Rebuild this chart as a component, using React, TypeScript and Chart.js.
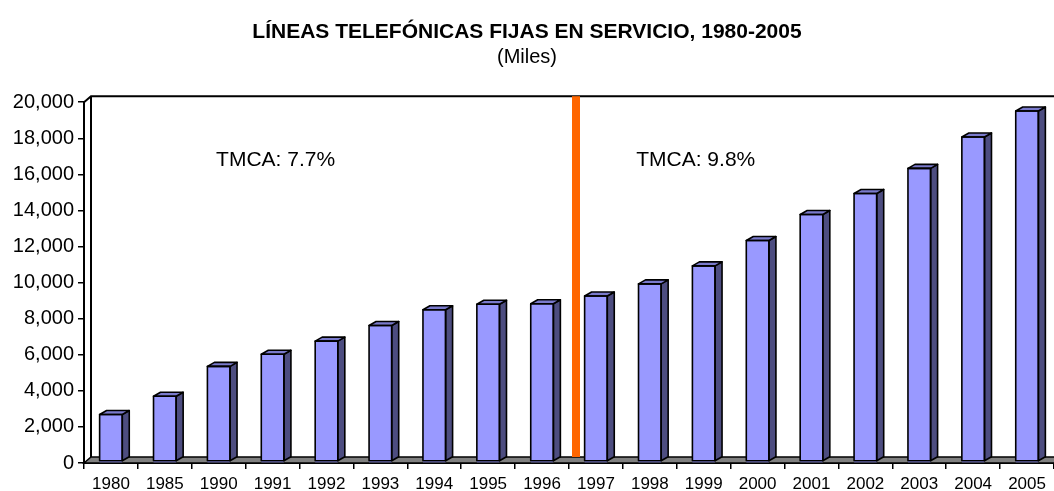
import React, { useEffect, useRef } from "react";
import { Chart, registerables } from "chart.js";

Chart.register(...registerables);

const categories = ["1980", "1985", "1990", "1991", "1992", "1993", "1994", "1995", "1996", "1997", "1998", "1999", "2000", "2001", "2002", "2003", "2004", "2005"];
const lineas = [2687, 3700, 5355, 6025, 6754, 7621, 8493, 8801, 8826, 9254, 9927, 10927, 12332, 13774, 14942, 16330, 18073, 19512];
const yMin = 0;
const yMax = 20000;
const yStep = 2000;
const titleText = "LÍNEAS TELEFÓNICAS FIJAS EN SERVICIO, 1980-2005";
const subtitleText = "(Miles)";
const notes = ["TMCA: 7.7%", "TMCA: 9.8%"];
const noteCategory = [3, 11];
const noteValue = [16800, 16800];
const splitAfterIndex = 8;

const FONT = "'Liberation Sans', Arial, Helvetica, sans-serif";
const DX = 7;
const DY = -6;
const BAR_DX = 7;
const BAR_DY = -4;

const threeD = {
  id: "threeD",
  beforeDatasetsDraw(chart: any) {
    const { ctx, chartArea } = chart;
    const { left, right, top, bottom } = chartArea;
    const x = chart.scales.x;
    ctx.save();
    // floor
    ctx.beginPath();
    ctx.moveTo(left, bottom);
    ctx.lineTo(left + DX, bottom + DY);
    ctx.lineTo(right + DX, bottom + DY);
    ctx.lineTo(right, bottom);
    ctx.closePath();
    ctx.fillStyle = "#808080";
    ctx.fill();
    ctx.strokeStyle = "#000";
    ctx.lineWidth = 1.5;
    ctx.stroke();
    // back wall
    ctx.lineWidth = 2;
    ctx.beginPath();
    ctx.moveTo(left, top);
    ctx.lineTo(left + DX, top + DY);
    ctx.lineTo(right + DX, top + DY);
    ctx.stroke();
    ctx.beginPath();
    ctx.moveTo(left + DX, top + DY);
    ctx.lineTo(left + DX, bottom + DY);
    ctx.stroke();
    // orange separator on back wall
    const sx = (x.getPixelForValue(splitAfterIndex) + x.getPixelForValue(splitAfterIndex + 1)) / 2 + DX;
    ctx.fillStyle = "#FF6600";
    ctx.fillRect(sx - 4, top + DY, 8, bottom - top);
    ctx.restore();
  },
  afterDatasetsDraw(chart: any) {
    const { ctx } = chart;
    const meta = chart.getDatasetMeta(0);
    ctx.save();
    ctx.strokeStyle = "#000";
    ctx.lineWidth = 1.6;
    ctx.lineJoin = "round";
    meta.data.forEach((bar: any) => {
      const { x, y, base, width } = bar.getProps(["x", "y", "base", "width"], true);
      const l = x - width / 2;
      const r = x + width / 2;
      const b = base - 1.5;
      // side
      ctx.beginPath();
      ctx.moveTo(r, y);
      ctx.lineTo(r + BAR_DX, y + BAR_DY);
      ctx.lineTo(r + BAR_DX, b + BAR_DY);
      ctx.lineTo(r, b);
      ctx.closePath();
      ctx.fillStyle = "#4D4D80";
      ctx.fill();
      ctx.stroke();
      // top
      ctx.beginPath();
      ctx.moveTo(l, y);
      ctx.lineTo(l + BAR_DX, y + BAR_DY);
      ctx.lineTo(r + BAR_DX, y + BAR_DY);
      ctx.lineTo(r, y);
      ctx.closePath();
      ctx.fillStyle = "#7A7ACC";
      ctx.fill();
      ctx.stroke();
      // front outline
      ctx.strokeRect(l, y, width, b - y);
    });
    // notes
    ctx.fillStyle = "#000";
    ctx.font = `21px ${FONT}`;
    ctx.textAlign = "center";
    ctx.textBaseline = "middle";
    notes.forEach((t, i) => {
      const px = chart.scales.x.getPixelForValue(noteCategory[i]);
      const py = chart.scales.y.getPixelForValue(noteValue[i]);
      ctx.fillText(t, px + (i === 0 ? 3 : -8), py);
    });
    ctx.restore();
  },
};

export default function App() {
  const ref = useRef<HTMLCanvasElement>(null);
  useEffect(() => {
    if (!ref.current) return;
    const chart = new Chart(ref.current, {
      type: "bar",
      data: {
        labels: categories,
        datasets: [
          {
            data: lineas,
            backgroundColor: "#9999FF",
            borderWidth: 0,
            barPercentage: 0.42,
            categoryPercentage: 1,
          },
        ],
      },
      options: {
        responsive: false,
        animation: false,
        layout: { padding: { left: 0, right: 0, top: 0, bottom: 0 } },
        plugins: {
          legend: { display: false },
          tooltip: { enabled: false },
          title: {
            display: true,
            text: titleText,
            color: "#000",
            font: { family: FONT, size: 21, weight: "bold", lineHeight: 1.2 },
            padding: { top: 20, bottom: 0 },
          },
          subtitle: {
            display: true,
            text: subtitleText,
            color: "#000",
            font: { family: FONT, size: 20, weight: "normal", lineHeight: 1.2 },
            padding: { top: 0, bottom: 33 },
          },
        },
        scales: {
          x: {
            offset: true,
            grid: {
              offset: true,
              drawOnChartArea: false,
              drawTicks: true,
              tickLength: 6,
              color: "#000",
              lineWidth: 1.5,
            },
            border: { color: "#000", width: 2 },
            ticks: { color: "#000", font: { family: FONT, size: 17 }, padding: 5, maxRotation: 0, autoSkip: false },
            afterFit(scale: any) {
              scale.height = 28;
            },
          },
          y: {
            min: yMin,
            max: yMax,
            ticks: {
              stepSize: yStep,
              color: "#000",
              font: { family: FONT, size: 20 },
              padding: 4,
              callback: (v: any) => Number(v).toLocaleString("en-US"),
            },
            grid: {
              drawOnChartArea: false,
              drawTicks: true,
              tickLength: 6,
              color: "#000",
              lineWidth: 1.5,
            },
            border: { color: "#000", width: 2 },
            afterFit(scale: any) {
              scale.width = 84;
            },
          },
        },
      },
      plugins: [threeD],
    });
    return () => chart.destroy();
  }, []);
  return (
    <div style={{ position: "absolute", left: 0, top: 0, width: 1054, height: 491, background: "#fff" }}>
      <canvas ref={ref} width={1054} height={491} style={{ display: "block" }} />
    </div>
  );
}
